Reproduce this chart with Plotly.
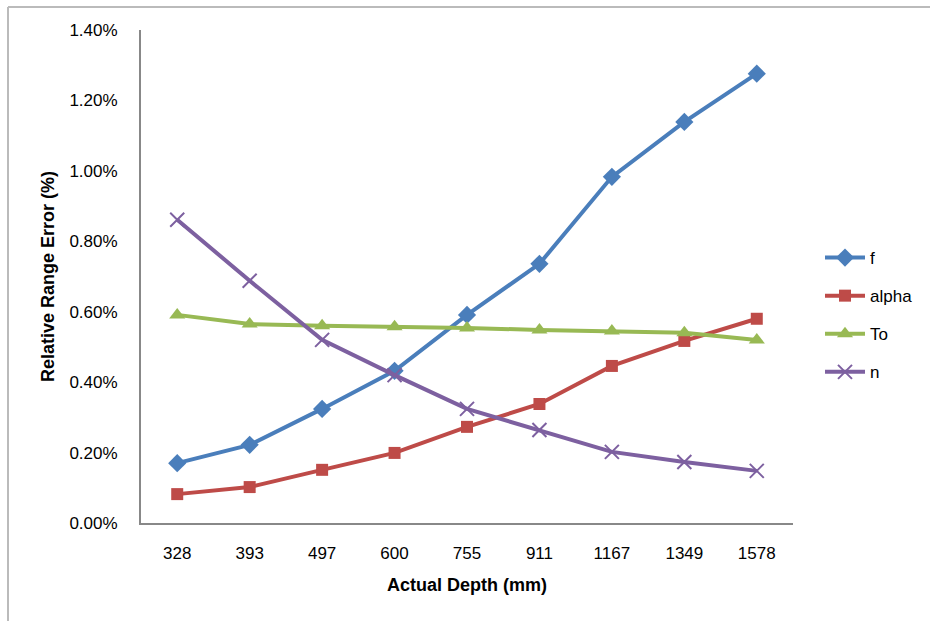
import plotly.graph_objects as go

# Actual depth categories (mm)
depths = ["328", "393", "497", "600", "755", "911", "1167", "1349", "1578"]

# Relative range error for each parameter (fractions, shown as %)
f_err = [0.00170, 0.00222, 0.00324, 0.00432, 0.00591, 0.00736, 0.00983, 0.01139, 0.01276]
alpha_err = [0.00082, 0.00102, 0.00151, 0.00199, 0.00273, 0.00338, 0.00446, 0.00517, 0.00580]
to_err = [0.00591, 0.00565, 0.00560, 0.00557, 0.00554, 0.00548, 0.00545, 0.00540, 0.00520]
n_err = [0.00861, 0.00688, 0.00520, 0.00420, 0.00324, 0.00264, 0.00202, 0.00173, 0.00148]

series = [
    ("f", f_err, "#4A7EBB", dict(symbol="diamond", size=14)),
    ("alpha", alpha_err, "#BE4B48", dict(symbol="square", size=12)),
    ("To", to_err, "#98B954", dict(symbol="triangle-up", size=14)),
    ("n", n_err, "#7D60A0", dict(symbol="x-thin-open", size=14, line=dict(width=2, color="#7D60A0"))),
]

fig = go.Figure()
for i, (name, vals, color, marker) in enumerate(series):
    fig.add_trace(go.Scatter(
        x=depths, y=vals, name=name, mode="lines+markers",
        line=dict(color=color, width=4),
        marker=dict(color=color, **marker),
        legendgroup=str(i),
    ))

W, H = 930, 621
L, R, T, B = 141, 137, 30, 98
pw, ph = W - L - R, H - T - B

def px_x(x):
    return (x - L) / pw

def px_y(y):
    return (H - B - y) / ph

font_family = "Liberation Sans, Arial, sans-serif"

fig.update_layout(
    width=W, height=H,
    margin=dict(l=L, r=R, t=T, b=B, pad=0),
    paper_bgcolor="white", plot_bgcolor="white",
    font=dict(family=font_family, size=17, color="#000"),
    showlegend=True,
    legend=dict(
        x=px_x(820), y=px_y(315), xanchor="left", yanchor="middle",
        traceorder="grouped", tracegroupgap=13,
        font=dict(size=17), itemwidth=40,
        bgcolor="rgba(0,0,0,0)",
    ),
    xaxis=dict(
        type="category", showline=True, linecolor="#888", linewidth=2,
        ticks="", showgrid=False, zeroline=False,
        ticklabelstandoff=14,
        tickfont=dict(size=17),
        title=dict(text="<b>Actual Depth (mm)</b>", font=dict(size=18), standoff=16),
        range=[-0.5, len(depths) - 0.5],
    ),
    yaxis=dict(
        range=[0, 0.014], dtick=0.002, tickformat=".2%",
        showline=True, linecolor="#888", linewidth=2,
        ticks="", showgrid=False, zeroline=False,
        ticklabelstandoff=18,
        tickfont=dict(size=17),
        title=dict(text="<b>Relative Range Error (%)</b>", font=dict(size=18), standoff=10),
    ),
    shapes=[
        dict(type="line", xref="paper", yref="paper",
             x0=px_x(8), x1=px_x(W + 5), y0=px_y(7), y1=px_y(7),
             line=dict(color="#BBBBBB", width=2)),
        dict(type="line", xref="paper", yref="paper",
             x0=px_x(8), x1=px_x(8), y0=px_y(7), y1=px_y(H + 5),
             line=dict(color="#BBBBBB", width=2)),
    ],
)

fig.write_html("out.html")
